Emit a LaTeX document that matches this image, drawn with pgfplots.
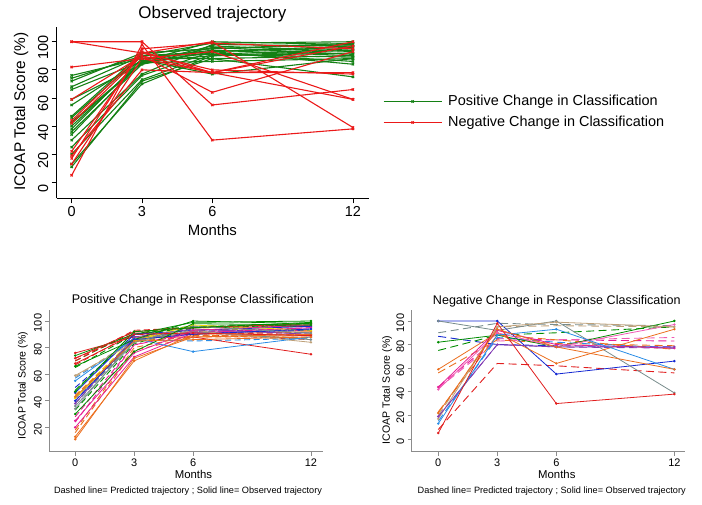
\documentclass[border=0pt]{standalone}
\usepackage{pgfplots}
\pgfplotsset{compat=1.18}
\usepackage{pgfplotstable}
\usepackage{fontspec}
\setmainfont{Liberation Sans}

\definecolor{topgreen}{RGB}{20,128,20}
\definecolor{topred}{RGB}{235,25,25}
\definecolor{cred}{RGB}{225,30,30}
\definecolor{cgreen}{RGB}{0,140,0}
\definecolor{cblue}{RGB}{20,40,210}
\definecolor{corange}{RGB}{235,110,30}
\definecolor{cmagenta}{RGB}{230,30,150}
\definecolor{cgray}{RGB}{120,140,140}
\definecolor{clblue}{RGB}{40,140,230}
\definecolor{cyellow}{RGB}{235,220,0}
\definecolor{cpurple}{RGB}{130,60,180}
\definecolor{ctan}{RGB}{190,160,120}
\definecolor{cpink}{RGB}{240,90,180}
\definecolor{axgray}{RGB}{140,140,140}

% positive subjects colours
\colorlet{pc1}{cred}\colorlet{pc2}{cgreen}\colorlet{pc3}{cblue}\colorlet{pc4}{corange}
\colorlet{pc5}{cmagenta}\colorlet{pc6}{cgray}\colorlet{pc7}{clblue}\colorlet{pc8}{cyellow}
\colorlet{pc9}{cpurple}\colorlet{pc10}{ctan}\colorlet{pc11}{cred}\colorlet{pc12}{cgreen}
\colorlet{pc13}{cblue}\colorlet{pc14}{corange}\colorlet{pc15}{cmagenta}\colorlet{pc16}{cgray}
\colorlet{pc17}{cgreen}\colorlet{pc18}{cred}\colorlet{pc19}{cgreen}\colorlet{pc20}{corange}
% negative subjects colours
\colorlet{nc1}{cblue}\colorlet{nc2}{cgray}\colorlet{nc3}{cgreen}\colorlet{nc4}{corange}
\colorlet{nc5}{cmagenta}\colorlet{nc6}{cpink}\colorlet{nc7}{ctan}\colorlet{nc8}{cpurple}
\colorlet{nc9}{clblue}\colorlet{nc10}{cred}\colorlet{nc11}{corange}

\pgfplotstableread{
m  p1 p2 p3 p4 p5 p6 p7 p8 p9 p10 p11 p12 p13 p14 p15 p16 p17 p18 p19 p20
0  76 74 46 13 20 34 55 42 38 59 72 66 40 11 25 36 47 68 30 43
3  88 90 90 70 73 86 87 85 88 84 92 86 86 72 76 84 92 90 77 85
6  88 99 93 90 91 92 77 97 94 93 95 100 90 88 93 96 95 91 98 86
12 75 100 96 92 95 86 88 93 90 84 98 98 94 90 97 91 99 89 97 88
}\posobs

\pgfplotstableread{
m  p1 p2 p3 p4 p5 p6 p7 p8 p9 p10 p11 p12 p13 p14 p15 p16 p17 p18 p19 p20
0  72 70 50 18 24 38 57 44 40 58 70 65 42 16 28 38 48 67 33 44
3  90 92 88 80 82 86 86 87 87 86 93 90 86 78 82 85 90 91 83 85
6  90 96 92 89 91 91 85 94 92 91 95 96 91 88 92 93 95 91 95 88
12 86 97 94 90 93 89 87 93 91 87 96 97 93 89 95 91 97 90 96 88
}\pospred

\pgfplotstableread{
m  n1 n2 n3 n4 n5 n6 n7 n8 n9 n10 n11
0  100 100 82 59 44 42 17 19 13 5 22
3  100 92 88 90 92 90 95 80 88 98 93
6  55 100 78 64 80 78 99 78 93 30 78
12 66 39 100 93 77 97 95 78 59 38 59
}\negobs

\pgfplotstableread{
m  n1 n2 n3 n4 n5 n6 n7 n8 n9 n10 n11
0  87 90 75 56 44 43 20 19 15 8 23
3  80 98 88 84 85 83 95 80 86 64 88
6  79 97 90 81 84 84 96 78 82 62 84
12 78 96 95 79 83 86 95 77 77 56 76
}\negpred

\pgfplotsset{
  /pgf/number format/assume math mode=true,
  stataaxis/.style={
    scale only axis,
    axis x line=bottom, axis y line=left,
    xtick={0,3,6,12},
    tick align=outside,
    clip=false,
  },
}

\begin{document}
\begin{tikzpicture}
\useasboundingbox (0bp,0bp) rectangle (702bp,505bp);

% ---------------- Top panel ----------------
\begin{axis}[stataaxis,
  width=312.6bp, height=171.6bp,
  at={(56.7bp,306.7bp)}, anchor=south west,
  xmin=-0.64, xmax=12.70, ymin=-11.4, ymax=110.7,
  ytick={0,20,...,100},
  axis line style={-, black, line width=0.8pt},
  major tick length=5bp,
  tick style={black, line width=0.7pt},
  tick label style={font=\fontsize{14.5}{16}\selectfont},
  yticklabel style={rotate=90, anchor=south, xshift=-6bp},
  title={Observed trajectory},
  title style={at={(axis description cs:0.498,1.039)}, anchor=center, font=\fontsize{17}{19}\selectfont},
  xlabel={Months},
  xlabel style={at={(axis description cs:0.498,-0.185)}, anchor=center, font=\fontsize{15}{17}\selectfont},
  ylabel={ICOAP Total Score (\%)},
  ylabel style={at={(axis description cs:-0.114,0.505)}, anchor=center, font=\fontsize{15.5}{17}\selectfont},
  legend style={draw=none, fill=none, at={(1.034,0.503)}, anchor=west,
    font=\fontsize{14.5}{16}\selectfont, row sep=5bp,
    nodes={inner xsep=6bp}},
  legend cell align=left,
  legend image code/.code={\draw[mark repeat=2,mark phase=2,#1] plot coordinates {(0bp,0bp) (29bp,0bp) (58bp,0bp)};},
]
\pgfplotsinvokeforeach{1,...,20}{
  \addplot[topgreen, line width=1.1pt, mark=x, mark size=1.6pt, forget plot] table[x=m,y=p#1]{\posobs};
}
\pgfplotsinvokeforeach{1,...,11}{
  \addplot[topred, line width=1.1pt, mark=x, mark size=1.6pt, forget plot] table[x=m,y=n#1]{\negobs};
}
\addlegendimage{topgreen, line width=1.1pt, mark=x, mark size=1.6pt}
\addlegendentry{Positive Change in Classification}
\addlegendimage{topred, line width=1.1pt, mark=x, mark size=1.6pt}
\addlegendentry{Negative Change in Classification}
\end{axis}

% ---------------- Bottom left ----------------
\begin{axis}[stataaxis,
  width=274bp, height=141.7bp,
  at={(49.3bp,53.3bp)}, anchor=south west,
  xmin=-1.32, xmax=12.63, ymin=1.7, ymax=108.3,
  ytick={20,40,...,100},
  axis line style={-, axgray, line width=0.8pt},
  major tick length=4bp,
  tick style={axgray, line width=0.6pt},
  tick label style={font=\fontsize{11}{13}\selectfont},
  yticklabel style={rotate=90, anchor=south, xshift=-2bp},
  title={Positive Change in Response Classification},
  title style={at={(axis description cs:0.524,1.025)}, anchor=center, font=\fontsize{12.6}{14}\selectfont},
  xlabel={Months},
  xlabel style={at={(axis description cs:0.526,-0.157)}, anchor=center, font=\fontsize{11.4}{13}\selectfont},
  ylabel={ICOAP Total Score (\%)},
  ylabel style={at={(axis description cs:-0.096,0.465)}, anchor=center, font=\fontsize{10.6}{12}\selectfont},
]
\pgfplotsinvokeforeach{1,...,20}{
  \addplot[pc#1, line width=0.9pt, dash pattern=on 6bp off 3.5bp] table[x=m,y=p#1]{\pospred};
}
\pgfplotsinvokeforeach{1,...,20}{
  \addplot[pc#1, line width=0.8pt, mark=*, mark size=0.8pt] table[x=m,y=p#1]{\posobs};
}
\end{axis}

% ---------------- Bottom right ----------------
\begin{axis}[stataaxis,
  width=273.3bp, height=141.7bp,
  at={(411.7bp,53.3bp)}, anchor=south west,
  xmin=-1.35, xmax=12.54, ymin=-10.8, ymax=109.3,
  ytick={0,20,...,100},
  axis line style={-, axgray, line width=0.8pt},
  major tick length=4bp,
  tick style={axgray, line width=0.6pt},
  tick label style={font=\fontsize{11}{13}\selectfont},
  yticklabel style={rotate=90, anchor=south, xshift=-2bp},
  title={Negative Change in Response Classification},
  title style={at={(axis description cs:0.531,1.021)}, anchor=center, font=\fontsize{12.6}{14}\selectfont},
  xlabel={Months},
  xlabel style={at={(axis description cs:0.531,-0.157)}, anchor=center, font=\fontsize{11.4}{13}\selectfont},
  ylabel={ICOAP Total Score (\%)},
  ylabel style={at={(axis description cs:-0.090,0.435)}, anchor=center, font=\fontsize{10.6}{12}\selectfont},
]
\pgfplotsinvokeforeach{1,...,11}{
  \addplot[nc#1, line width=0.9pt, dash pattern=on 8bp off 4.5bp] table[x=m,y=n#1]{\negpred};
}
\pgfplotsinvokeforeach{1,...,11}{
  \addplot[nc#1, line width=0.8pt, mark=*, mark size=0.8pt] table[x=m,y=n#1]{\negobs};
}
\end{axis}

\node[font=\fontsize{9.2}{11}\selectfont] at (188bp,14.3bp) {Dashed line= Predicted trajectory ; Solid line= Observed trajectory};
\node[font=\fontsize{9.2}{11}\selectfont] at (551.7bp,14bp) {Dashed line= Predicted trajectory ; Solid line= Observed trajectory};
\end{tikzpicture}
\end{document}
